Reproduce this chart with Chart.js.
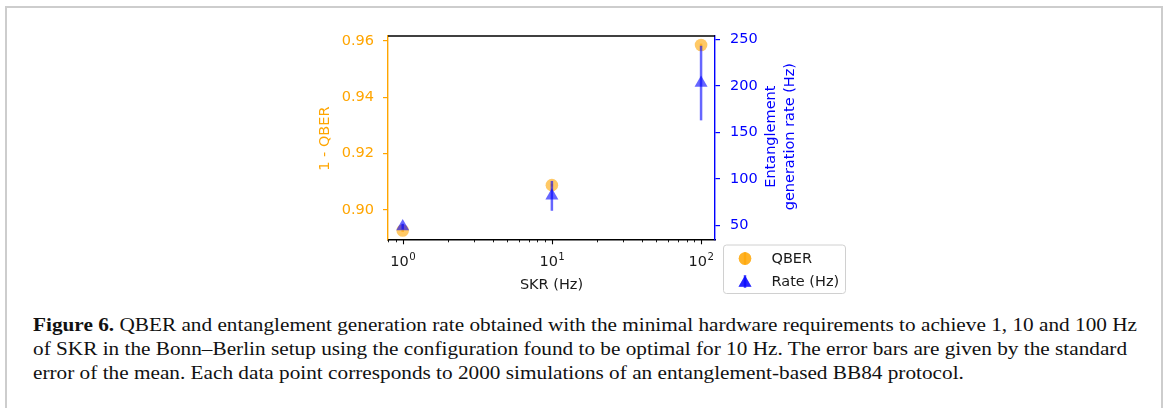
<!DOCTYPE html>
<html>
<head>
<meta charset="utf-8">
<script src="https://cdn.jsdelivr.net/npm/chart.js@4/dist/chart.umd.min.js"></script>
<style>
  html, body { margin:0; padding:0; background:#fff; width:1166px; height:408px; overflow:hidden; }
  #frame { position:absolute; left:5px; top:6px; width:1154px; height:420px; border:2px solid #cdcdcd; border-bottom:none; }
  #c { position:absolute; left:0; top:0; }
  .cap { position:absolute; left:33px; font-family:'Liberation Serif', 'DejaVu Serif', serif; font-size:18px; line-height:24px; color:#111; white-space:nowrap; transform-origin:0 0; }
</style>
</head>
<body>
<div id="frame"></div>
<canvas id="c" width="1166" height="300"></canvas>
<div class="cap" id="l1" style="top:312.6px"><b>Figure 6.</b> QBER and entanglement generation rate obtained with the minimal hardware requirements to achieve 1, 10 and 100 Hz</div>
<div class="cap" id="l2" style="top:336.6px">of SKR in the Bonn–Berlin setup using the configuration found to be optimal for 10 Hz. The error bars are given by the standard</div>
<div class="cap" id="l3" style="top:360.6px">error of the mean. Each data point corresponds to 2000 simulations of an entanglement-based BB84 protocol.</div>
<script>
// ---- data ----
const skr = [1, 10, 100];
const oneMinusQber = [0.8927, 0.9088, 0.9585];
const qberErr = [0.0005, 0.0005, 0.0005];
const rate = [49, 82, 203];
const rateErr = [3, 16, 40];
const leftTicks = [0.90, 0.92, 0.94, 0.96];
const rightTicks = [50, 100, 150, 200, 250];
const xMajor = [1, 10, 100];
const xMajorBase = '10';
const xMajorExp = ['0', '1', '2'];
const xMinor = [0.8, 0.9, 2, 3, 4, 5, 6, 7, 8, 9, 20, 30, 40, 50, 60, 70, 80, 90];
const legendLabels = ['QBER', 'Rate (Hz)'];
const titles = { x: 'SKR (Hz)', y: '1 - QBER', y1: ['Entanglement', 'generation rate (Hz)'] };

// ---- style ----
const ORANGE = '#ffa500';
const BLUE = '#0000ff';
const ORANGE_A = 'rgba(255,165,0,0.6)';
const BLUE_A = 'rgba(0,0,255,0.6)';
const FONT = "'DejaVu Sans', sans-serif";
const FS = 14.5;
const FS_EXP = 10.2;
const TXT = '#1a1a1a';

const errData = [qberErr, rateErr];
const errAxis = ['y', 'y1'];
const errColor = [ORANGE_A, BLUE_A];

const overlay = {
  id: 'overlay',
  beforeDatasetDraw(chart, args) {
    const i = args.index;
    const ds = chart.data.datasets[i];
    const xs = chart.scales.x, ys = chart.scales[errAxis[i]];
    const ctx = chart.ctx;
    ctx.save();
    ctx.strokeStyle = errColor[i];
    ctx.lineWidth = 2.5;
    ds.data.forEach((p, k) => {
      const e = errData[i][k];
      const px = xs.getPixelForValue(p.x);
      ctx.beginPath();
      ctx.moveTo(px, ys.getPixelForValue(p.y - e));
      ctx.lineTo(px, ys.getPixelForValue(p.y + e));
      ctx.stroke();
    });
    ctx.restore();
  },
  afterDraw(chart) {
    const ctx = chart.ctx;
    const a = chart.chartArea;
    const xs = chart.scales.x;
    ctx.save();
    // top spine
    ctx.strokeStyle = '#000';
    ctx.lineWidth = 1.4;
    ctx.beginPath(); ctx.moveTo(a.left, a.top); ctx.lineTo(a.right, a.top); ctx.stroke();
    // x ticks
    ctx.lineWidth = 1.1;
    xMajor.forEach(v => { const p = Math.round(xs.getPixelForValue(v)) + 0.5; ctx.beginPath(); ctx.moveTo(p, a.bottom); ctx.lineTo(p, a.bottom + 5); ctx.stroke(); });
    ctx.lineWidth = 0.9;
    xMinor.forEach(v => { const p = Math.round(xs.getPixelForValue(v)) + 0.5; ctx.beginPath(); ctx.moveTo(p, a.bottom); ctx.lineTo(p, a.bottom + 3); ctx.stroke(); });
    // x tick labels (10^n)
    ctx.fillStyle = TXT;
    ctx.textBaseline = 'alphabetic';
    ctx.textAlign = 'left';
    xMajor.forEach((v, i) => {
      const p = xs.getPixelForValue(v);
      ctx.font = FS + 'px ' + FONT;
      const w1 = ctx.measureText(xMajorBase).width;
      ctx.font = FS_EXP + 'px ' + FONT;
      const w2 = ctx.measureText(xMajorExp[i]).width;
      const x0 = p - (w1 + w2) / 2;
      ctx.font = FS + 'px ' + FONT;
      ctx.fillText(xMajorBase, x0, a.bottom + 27);
      ctx.font = FS_EXP + 'px ' + FONT;
      ctx.fillText(xMajorExp[i], x0 + w1 + 0.5, a.bottom + 20.5);
    });
    // titles
    ctx.font = FS + 'px ' + FONT;
    ctx.textAlign = 'center';
    ctx.textBaseline = 'middle';
    ctx.fillStyle = TXT;
    ctx.fillText(titles.x, (a.left + a.right) / 2, a.bottom + 46);
    const cy = (a.top + a.bottom) / 2;
    ctx.save();
    ctx.translate(a.left - 63, cy + 1);
    ctx.rotate(-Math.PI / 2);
    ctx.fillStyle = ORANGE;
    ctx.fillText(titles.y, 0, 0);
    ctx.restore();
    ctx.save();
    ctx.translate(a.right + 56.5, cy - 1);
    ctx.rotate(-Math.PI / 2);
    ctx.fillStyle = BLUE;
    ctx.fillText(titles.y1[0], 0, 0);
    ctx.fillText(titles.y1[1], 0, 18.5);
    ctx.restore();
    // legend
    const lx = 723.5, ly = 245, lw = 122, lh = 48.5;
    ctx.strokeStyle = '#d0d0d0';
    ctx.lineWidth = 1;
    ctx.fillStyle = 'rgba(255,255,255,0.8)';
    ctx.beginPath();
    ctx.roundRect(lx, ly, lw, lh, 3);
    ctx.fill(); ctx.stroke();
    const rows = [ly + 13.5, ly + 36.5];
    const styles = ['circle', 'triangle'];
    const cols = [ORANGE_A, BLUE_A];
    const radii = [6.3, 7.5];
    rows.forEach((ry, k) => {
      ctx.strokeStyle = cols[k];
      ctx.lineWidth = 2.5;
      ctx.beginPath(); ctx.moveTo(745, ry - 6.5); ctx.lineTo(745, ry + 6.5); ctx.stroke();
      ctx.fillStyle = cols[k];
      Chart.helpers.drawPoint(ctx, { pointStyle: styles[k], radius: radii[k], borderWidth: 0, rotation: 0 }, 745, ry + (k === 1 ? 1.5 : 0));
      ctx.fill();
      ctx.fillStyle = TXT;
      ctx.textAlign = 'left';
      ctx.textBaseline = 'middle';
      ctx.fillText(legendLabels[k], 771.5, ry + 0.5);
    });
    ctx.restore();
  }
};

const chart = new Chart(document.getElementById('c'), {
  type: 'scatter',
  data: {
    datasets: [
      {
        label: legendLabels[0],
        data: skr.map((x, i) => ({ x, y: oneMinusQber[i] })),
        yAxisID: 'y',
        pointStyle: 'circle',
        pointRadius: 6.3,
        pointBackgroundColor: ORANGE_A,
        pointBorderWidth: 0,
        order: 1
      },
      {
        label: legendLabels[1],
        data: skr.map((x, i) => ({ x, y: rate[i] })),
        yAxisID: 'y1',
        pointStyle: 'triangle',
        pointRadius: 7.5,
        pointBackgroundColor: BLUE_A,
        pointBorderWidth: 0,
        order: 0
      }
    ]
  },
  options: {
    responsive: false,
    animation: false,
    devicePixelRatio: 1,
    layout: { padding: { top: 36, left: 0, right: 0, bottom: 0 } },
    plugins: { legend: { display: false }, tooltip: { enabled: false } },
    scales: {
      x: {
        type: 'logarithmic',
        position: 'bottom',
        min: 0.797, max: 124,
        afterBuildTicks: s => { s.ticks = xMajor.map(v => ({ value: v })); },
        afterFit: s => { s.height = 300 - 239.3; },
        grid: { display: true, drawOnChartArea: false, drawTicks: true, tickLength: 5, color: 'rgba(0,0,0,0)' },
        border: { display: true, color: '#000', width: 1.4 },
        ticks: { display: false }
      },
      y: {
        type: 'linear',
        position: 'left',
        min: 0.8896, max: 0.9617,
        afterBuildTicks: s => { s.ticks = leftTicks.map(v => ({ value: v })); },
        afterFit: s => { s.width = 388; },
        grid: { display: true, drawOnChartArea: false, drawTicks: true, tickLength: 5, color: ORANGE, lineWidth: 1.2 },
        border: { display: true, color: ORANGE, width: 1.4 },
        ticks: { padding: 9, color: ORANGE, font: { family: FONT, size: FS }, callback: v => v.toFixed(2) }
      },
      y1: {
        type: 'linear',
        position: 'right',
        min: 35.4, max: 253.5,
        afterBuildTicks: s => { s.ticks = rightTicks.map(v => ({ value: v })); },
        afterFit: s => { s.width = 1166 - 715; },
        grid: { display: true, drawOnChartArea: false, drawTicks: true, tickLength: 5, color: BLUE, lineWidth: 1.2 },
        border: { display: true, color: BLUE, width: 1.4 },
        ticks: { padding: 10, color: BLUE, font: { family: FONT, size: FS }, callback: v => String(v) }
      }
    }
  },
  plugins: [overlay]
});

// fit caption line widths to reference
const el1 = document.getElementById('l1');
const s = 1104 / el1.getBoundingClientRect().width;
['l1', 'l2', 'l3'].forEach(id => { document.getElementById(id).style.transform = 'scaleX(' + s + ')'; });
</script>
</body>
</html>
